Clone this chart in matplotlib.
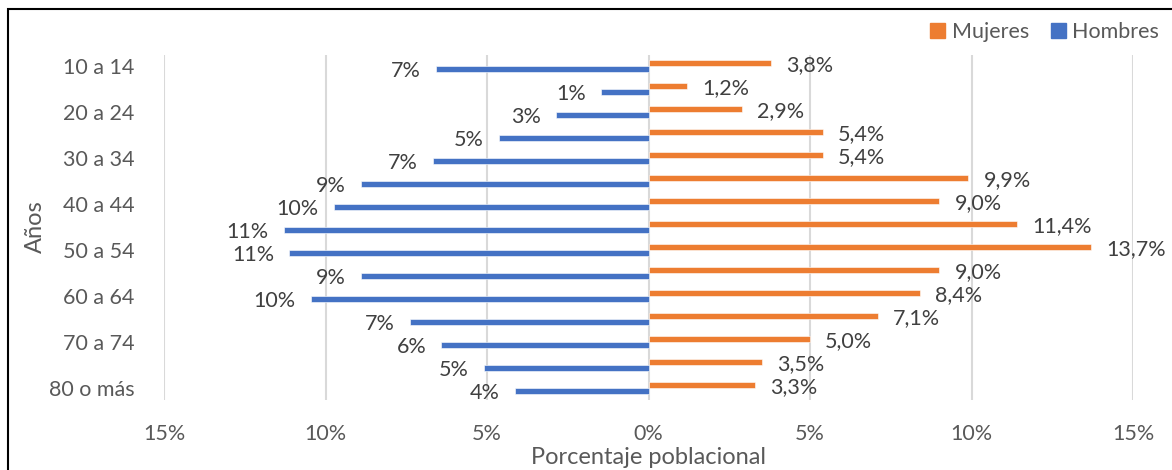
import matplotlib
matplotlib.use("Agg")
import matplotlib.pyplot as plt
from matplotlib.patches import Rectangle, Patch
import numpy as np

plt.rcParams['font.family'] = ['Lato', 'DejaVu Sans']

categories = ["10 a 14", "15 a 19", "20 a 24", "25 a 29", "30 a 34", "35 a 39",
              "40 a 44", "45 a 49", "50 a 54", "55 a 59", "60 a 64", "65 a 69",
              "70 a 74", "75 a 79", "80 o más"]
mujeres = [3.8, 1.2, 2.9, 5.4, 5.4, 9.9, 9.0, 11.4, 13.7, 9.0, 8.4, 7.1, 5.0, 3.5, 3.3]
hombres = [6.58, 1.47, 2.86, 4.63, 6.67, 8.90, 9.75, 11.29, 11.12, 8.90, 10.46, 7.38, 6.41, 5.09, 4.14]
xticks = [-15, -10, -5, 0, 5, 10, 15]

orange = "#ED7D31"
blue = "#4472C4"
txt = "#404040"
tick_c = "#595959"

W, H = 1172, 470
fig = plt.figure(figsize=(W / 100, H / 100), dpi=100)
ax = fig.add_axes([164 / W, 1 - 399.5 / H, (1133 - 164) / W, (399.5 - 54.6) / H])

y = np.arange(len(categories))
bh = 0.235
off = 0.127
ax.barh(y - off, mujeres, height=bh, color=orange, edgecolor="white", linewidth=0.4, zorder=3)
ax.barh(y + off, [-v for v in hombres], height=bh, color=blue, edgecolor="white", linewidth=0.4, zorder=3)

fs = 15.5
for i, v in enumerate(mujeres):
    ax.annotate(f"{v:.1f}%".replace(".", ","), xy=(v, y[i] - off + 0.1), xytext=(11, 0),
                textcoords="offset points", ha="left", va="center", fontsize=fs, color=txt)
for i, v in enumerate(hombres):
    ax.annotate(f"{round(v)}%", xy=(-v, y[i] + off + 0.1), xytext=(-11, 0),
                textcoords="offset points", ha="right", va="center", fontsize=fs, color=txt)

ax.set_xlim(-15, 15)
ax.set_ylim(len(categories) - 0.5, -0.5)
ax.set_xticks(xticks)
ax.set_xticklabels([f"{abs(t)}%" for t in xticks], fontsize=fs, color=tick_c)
ax.set_yticks(y[::2])
ax.set_yticklabels(categories[::2], fontsize=fs, color=tick_c)
ax.tick_params(axis="both", length=0)
ax.tick_params(axis="x", pad=18)
ax.tick_params(axis="y", pad=21)
ax.grid(axis="x", color="#d9d9d9", linewidth=1.5, zorder=0)
for s in ax.spines.values():
    s.set_visible(False)

ax.set_xlabel("Porcentaje poblacional", fontsize=17, color=tick_c, labelpad=2)
fig.text(35 / W, 1 - 227 / H, "Años", rotation=90, ha="center", va="center", fontsize=17, color=tick_c)

handles = [Patch(color=orange, label="Mujeres"), Patch(color=blue, label="Hombres")]
fig.legend(handles=handles, loc="center right", bbox_to_anchor=(1172 / W, 1 - 32 / H), ncol=2,
           frameon=False, fontsize=fs, labelcolor=tick_c, handlelength=0.7, handleheight=0.7,
           handletextpad=0.3, columnspacing=1.0, borderaxespad=0.2)

fig.patches.append(Rectangle((8 / W, -0.1), 1.2, 1.1 - 9 / H + 0.0, transform=fig.transFigure,
                             fill=False, edgecolor="black", linewidth=1.5))

fig.savefig("out.png", dpi=100)
